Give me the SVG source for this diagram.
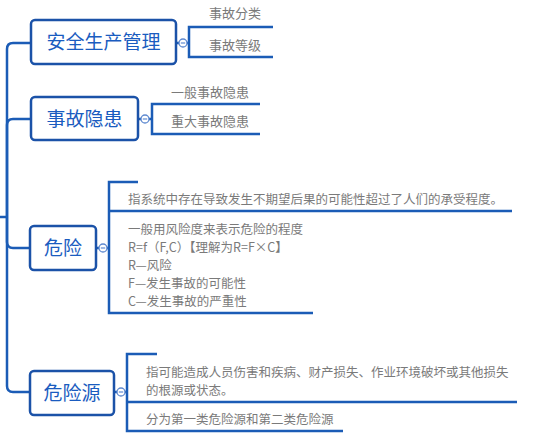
<svg xmlns="http://www.w3.org/2000/svg" width="546" height="438" viewBox="0 0 546 438">
<style>
.ln{fill:none;stroke:#1b5cb6;stroke-width:2.5;stroke-linecap:butt;stroke-linejoin:miter}
.box{fill:#fff;stroke:#1b52a8;stroke-width:2.5}
.bt{font-family:"Noto Sans CJK SC","Noto Sans",sans-serif;font-size:19px;fill:#1a5cc0;text-anchor:middle}
.st{font-family:"Noto Sans CJK SC","Noto Sans",sans-serif;font-size:12.5px;fill:#7a7a7a}
.st13{font-family:"Noto Sans CJK SC","Noto Sans",sans-serif;font-size:13px;fill:#7a7a7a}
.cir{fill:#fff;stroke:#5f8ad0;stroke-width:1.3}
.mn{stroke:#5f8ad0;stroke-width:1.2}
</style>
<rect width="546" height="438" fill="#fff"/>
<g id="connectors">
<path class="ln" d="M0,217 H7"/>
<path class="ln" d="M7,217 V49 Q7,43 13,43 H31"/>
<path class="ln" d="M7,217 V125 Q7,119 13,119 H31"/>
<path class="ln" d="M7,217 V242 Q7,248 13,248 H30"/>
<path class="ln" d="M7,217 V386 Q7,392 13,392 H30"/>
<path class="ln" d="M176,43 H189"/>
<path class="ln" d="M273,27 H189 V57 H273"/>
<path class="ln" d="M138,119 H152"/>
<path class="ln" d="M260,104 H152 V134 H260"/>
<path class="ln" d="M96,248 H109"/>
<path class="ln" d="M138,182 H109 V313 H313"/>
<path class="ln" d="M109,211 H512"/>
<path class="ln" d="M114,392 H127"/>
<path class="ln" d="M157,354 H127 V431 H343"/>
<path class="ln" d="M127,402 H517"/>
</g>
<g id="n1">
<rect class="box" x="31" y="20" width="145" height="44" rx="4"/>
<text class="bt" x="103.5" y="49">安全生产管理</text>
<circle class="cir" cx="183" cy="43" r="4"/><line class="mn" x1="180.8" y1="43" x2="185.2" y2="43"/>
</g>
<g id="n1a"><text class="st13" x="209" y="18">事故分类</text></g>
<g id="n1b"><text class="st13" x="209" y="50">事故等级</text></g>
<g id="n2">
<rect class="box" x="31" y="97" width="107" height="43" rx="4"/>
<text class="bt" x="84.5" y="125.5">事故隐患</text>
<circle class="cir" cx="145" cy="119" r="4"/><line class="mn" x1="142.8" y1="119" x2="147.2" y2="119"/>
</g>
<g id="n2a"><text class="st13" x="171" y="97">一般事故隐患</text></g>
<g id="n2b"><text class="st13" x="171" y="126">重大事故隐患</text></g>
<g id="n3">
<rect class="box" x="30" y="226" width="66" height="44" rx="4"/>
<text class="bt" x="63" y="255">危险</text>
<circle class="cir" cx="103" cy="248" r="4"/><line class="mn" x1="100.8" y1="248" x2="105.2" y2="248"/>
</g>
<g id="n3a"><text class="st" x="128" y="204">指系统中存在导致发生不期望后果的可能性超过了人们的承受程度。</text></g>
<g id="n3b">
<text class="st" x="128" y="234">一般用风险度来表示危险的程度</text>
<text class="st" x="128" y="252">R=f（F,C）【理解为R=F×C】</text>
<text class="st" x="128" y="270">R—风险</text>
<text class="st" x="128" y="288">F—发生事故的可能性</text>
<text class="st" x="128" y="306">C—发生事故的严重性</text>
</g>
<g id="n4">
<rect class="box" x="30" y="371" width="84" height="44" rx="4"/>
<text class="bt" x="72" y="400">危险源</text>
<circle class="cir" cx="121" cy="392" r="4"/><line class="mn" x1="118.8" y1="392" x2="123.2" y2="392"/>
</g>
<g id="n4a">
<text class="st" x="146" y="377">指可能造成人员伤害和疾病、财产损失、作业环境破坏或其他损失</text>
<text class="st" x="146" y="395">的根源或状态。</text>
</g>
<g id="n4b"><text class="st" x="146" y="424">分为第一类危险源和第二类危险源</text></g>
</svg>
